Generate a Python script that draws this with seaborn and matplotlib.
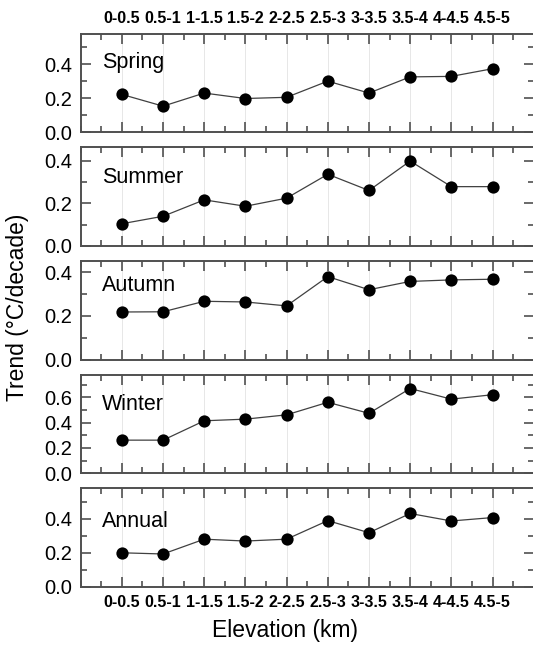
import numpy as np
import pandas as pd
import matplotlib
matplotlib.use("Agg")
import matplotlib.pyplot as plt
from matplotlib.ticker import MultipleLocator, FormatStrFormatter
import seaborn as sns

# ---- data ----
elevation_bins = ["0-0.5", "0.5-1", "1-1.5", "1.5-2", "2-2.5",
                  "2.5-3", "3-3.5", "3.5-4", "4-4.5", "4.5-5"]
seasons = ["Spring", "Summer", "Autumn", "Winter", "Annual"]
spring = [0.222, 0.153, 0.230, 0.198, 0.205, 0.300, 0.230, 0.325, 0.328, 0.373]
summer = [0.104, 0.139, 0.216, 0.186, 0.224, 0.336, 0.260, 0.398, 0.278, 0.278]
autumn = [0.218, 0.219, 0.267, 0.264, 0.246, 0.380, 0.320, 0.358, 0.365, 0.368]
winter = [0.262, 0.262, 0.415, 0.428, 0.462, 0.561, 0.474, 0.670, 0.586, 0.621]
annual = [0.201, 0.194, 0.281, 0.270, 0.281, 0.390, 0.319, 0.432, 0.388, 0.408]
series = [spring, summer, autumn, winter, annual]
y_max = [0.58, 0.463, 0.452, 0.78, 0.58]

# ---- layout / style ----
label_y = [0.655, 0.64, 0.69, 0.64, 0.61]
W, H = 533, 647
sns.set_style("ticks")
plt.rcParams["font.family"] = ["Liberation Sans", "DejaVu Sans"]
plt.rcParams["text.color"] = "black"

fig = plt.figure(figsize=(W / 100, H / 100), dpi=100)
left_px, right_px = 80.7, 533.7
top_px, bot_px = 33.5, 587.0
gap = 15.0
ph = (bot_px - top_px - 4 * gap) / 5

spine_col = "#505050"
axes = []
for i, (name, vals) in enumerate(zip(seasons, series)):
    top = top_px + i * (ph + gap)
    ax = fig.add_axes([left_px / W, 1 - (top + ph) / H,
                       (right_px - left_px) / W, ph / H])
    axes.append(ax)
    df = pd.DataFrame({"x": np.arange(len(elevation_bins)), "y": vals})
    for xv in df["x"]:
        ax.axvline(xv, color="#e3e3e3", lw=0.6, zorder=0)
    sns.lineplot(data=df, x="x", y="y", ax=ax, color="#404040",
                 lw=0.9, zorder=2)
    sns.scatterplot(data=df, x="x", y="y", ax=ax, color="black",
                    s=78, edgecolor="black", linewidth=0, zorder=3)
    ax.set_xlim(-1, 10)
    ax.set_ylim(0, y_max[i])
    ax.set_xlabel("")
    ax.set_ylabel("")
    ax.xaxis.set_minor_locator(MultipleLocator(0.5))
    ax.yaxis.set_major_locator(MultipleLocator(0.2))
    ax.yaxis.set_minor_locator(MultipleLocator(0.1))
    ax.set_xticks(np.arange(len(elevation_bins)))
    ax.set_xticklabels(elevation_bins)
    for s in ax.spines.values():
        s.set_visible(True)
        s.set_color(spine_col)
        s.set_linewidth(1.4)
    ax.tick_params(which="both", direction="in", top=True, right=True,
                   color=spine_col, width=1.2)
    ax.tick_params(which="major", length=7)
    ax.tick_params(which="minor", length=4)
    ax.tick_params(axis="y", labelsize=14.5, pad=6, labelcolor="black")
    ax.tick_params(axis="x", labelsize=11.5, pad=5.5, labelbottom=(i == 4),
                   labeltop=(i == 0), labelcolor="black")
    ax.yaxis.set_major_formatter(FormatStrFormatter("%.1f"))
    for t in ax.get_xticklabels():
        t.set_fontweight("bold")
    ax.text(0.047, label_y[i], name, transform=ax.transAxes, fontsize=15.5,
            va="baseline", ha="left", color="black")

fig.text(18 / W, 1 - 307 / H, "Trend (°C/decade)", rotation=90,
         ha="center", va="center", fontsize=16.5, color="black")
fig.text(285 / W, 1 - 630 / H, "Elevation (km)", ha="center", va="center",
         fontsize=16.5, color="black")

fig.savefig("out.png", dpi=100)
